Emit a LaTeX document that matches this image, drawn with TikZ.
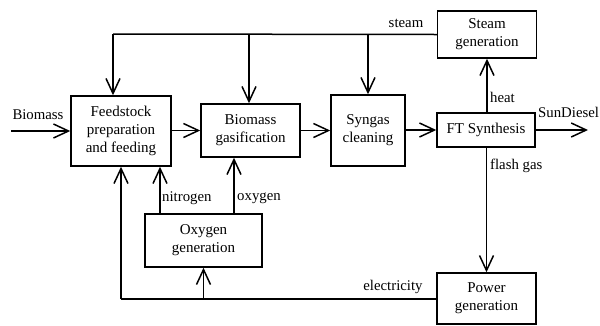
\documentclass[tikz,border=0pt]{standalone}
\usepackage{fontspec}
\setmainfont{Liberation Serif}
\usetikzlibrary{arrows.meta}
\begin{document}
\begin{tikzpicture}[x=1pt,y=-1pt,
  box/.style={draw,line width=1.5pt,align=center,inner sep=0pt,font=\fontsize{15}{17.8}\selectfont},
  flow/.style={line width=1.5pt,-{Straight Barb[length=15pt,width=14pt,line width=1.5pt]}},
  lbl/.style={font=\fontsize{14.8}{17}\selectfont,inner sep=0pt},
  plain/.style={line width=1.5pt}]
\useasboundingbox (0,0) rectangle (600,325);
\node[box,minimum width=100pt,minimum height=70pt] (feed) at (121,131) {Feedstock\\preparation\\and feeding};
\node[box,minimum width=99pt,minimum height=53pt] (gas) at (250.5,130.5) {Biomass\\gasification};
\node[box,minimum width=74pt,minimum height=71pt] (syn) at (368,130.5) {Syngas\\cleaning};
\node[box,minimum width=98pt,minimum height=34pt] (ft) at (486,130) {FT Synthesis};
\node[box,minimum width=99pt,minimum height=47pt] (steam) at (487,34.5) {Steam\\generation};
\node[box,minimum width=117pt,minimum height=53pt] (oxy) at (203.5,240.5) {Oxygen\\generation};
\node[box,minimum width=99pt,minimum height=51pt] (pow) at (486.5,298.5) {Power\\generation};
\coordinate (bin) at (11,131);
\coordinate (dout) at (588,130);
\coordinate (sc) at (113,34);
\coordinate (ec) at (121,299);
% main flow
\draw[flow] (bin) -- (feed.west |- bin);
\node[lbl] (lbio) at (38,115) {Biomass};
\draw[flow] (feed.east |- gas) -- (gas.west);
\draw[flow] (gas.east) -- (syn.west |- gas);
\draw[flow] (syn.east |- ft) -- (ft.west);
\draw[flow] (ft.east) -- (dout);
\node[lbl,anchor=west] (ldie) at (538,112) {SunDiesel};
% steam
\draw[plain] (steam.west) -- (sc);
\draw[flow] (sc) -- (sc |- feed.north);
\draw[flow] (249,34) -- (249,0 |- gas.north);
\draw[flow] (syn.north |- sc) -- (syn.north);
\node[lbl] (lsteam) at (406,23) {steam};
% heat, flash gas
\draw[flow] (ft.north -| steam.south) -- (steam.south);
\node[lbl,anchor=west] (lheat) at (490,97) {heat};
\draw[flow] (ft.south -| pow.north) -- (pow.north);
\node[lbl,anchor=west] (lflash) at (490,166) {flash gas};
% electricity
\draw[plain] (pow.west |- ec) -- (ec);
\draw[flow] (ec) -- (feed.south);
\draw[flow] (oxy.south |- ec) -- (oxy.south);
\node[lbl] (lelec) at (393,287) {electricity};
% nitrogen, oxygen
\draw[flow] (160,0 |- oxy.north) -- (160,0 |- feed.south);
\node[lbl,anchor=west] (lnit) at (162,198) {nitrogen};
\draw[flow] (234,0 |- oxy.north) -- (234,0 |- gas.south);
\node[lbl,anchor=west] (loxy) at (237,198) {oxygen};
\end{tikzpicture}
\end{document}
